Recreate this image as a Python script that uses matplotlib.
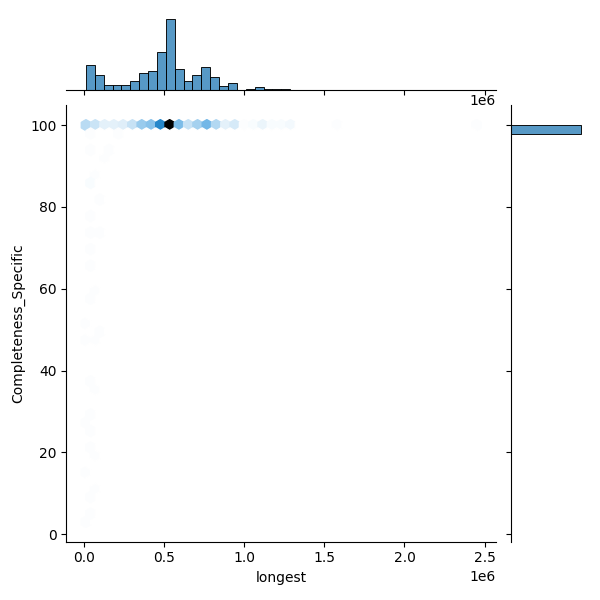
import matplotlib
matplotlib.use("Agg")
import matplotlib.pyplot as plt
import numpy as np
import pandas as pd
import seaborn as sns

# counts of genomes per "longest" bin (bin centres in bp)
bin_centers = np.array([0.04, 0.095, 0.15, 0.206, 0.261, 0.317, 0.372, 0.428, 0.483, 0.539,
                        0.595, 0.650, 0.706, 0.761, 0.817, 0.872, 0.928, 0.983, 1.039, 1.094,
                        1.150, 1.205, 1.261, 1.316, 1.594, 2.45]) * 1e6
bin_counts = [17, 13, 7, 7, 8, 14, 25, 29, 56, 106, 32, 14, 22, 34, 19, 7, 10, 1, 2, 5,
              2, 2, 2, 1, 1, 1]

# incomplete genomes scattered near the left edge
low_longest = np.array([0.03, 0.05, 0.04, 0.06, 0.03, 0.05, 0.04, 0.012, 0.04, 0.05,
                        0.07, 0.03, 0.06, 0.02, 0.08, 0.04, 0.06, 0.09, 0.05, 0.07,
                        0.03, 0.08, 0.05, 0.10, 0.06, 0.04, 0.09, 0.12, 0.07, 0.15,
                        0.05, 0.22]) * 1e6
low_completeness = [3, 6, 9, 12, 15, 19, 22, 25, 27, 30, 35, 38, 47, 48, 50, 52, 58, 59,
                    66, 70, 73, 74, 78, 82, 85, 86, 88, 92, 94, 95, 99, 99]

longest = np.concatenate([np.repeat(bin_centers, bin_counts), low_longest])
completeness = np.concatenate([np.full(sum(bin_counts), 100.0), low_completeness])
df = pd.DataFrame({"longest": longest, "Completeness_Specific": completeness})

g = sns.jointplot(data=df, x="longest", y="Completeness_Specific", kind="hex", height=6,
                  joint_kws=dict(gridsize=42), marginal_kws=dict(bins=44))
g.figure.savefig("out.png", dpi=100)
